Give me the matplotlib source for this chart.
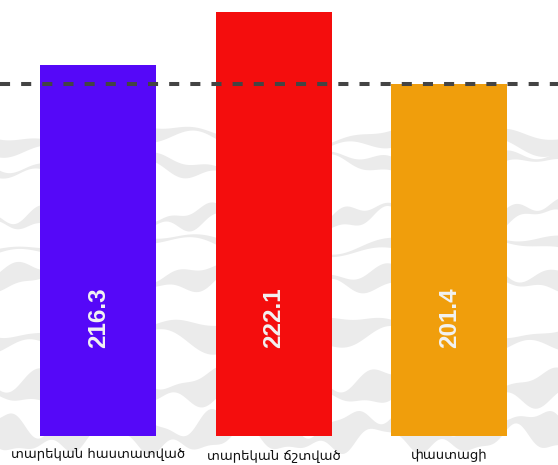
import matplotlib
matplotlib.use("Agg")
import matplotlib.pyplot as plt
import numpy as np

# categories and values shown on the bars
categories = ["տարեկան հաստատված", "տարեկան ճշտված", "փաստացի"]
value_labels = ["216.3", "222.1", "201.4"]
# bar heights as drawn (relative, tallest bar = 100); the picture is not to scale
bar_heights = [87.5, 100.0, 83.0]
reference_level = 83.0
colors = ["#5508f8", "#f40d0d", "#f09e0c"]

fig = plt.figure(figsize=(5.58, 4.65), dpi=100)
ax = fig.add_axes([0, 0, 1, 1])

# bars sit on a baseline 436 px from the top
px_per_unit = 4.24
ax.set_xlim(-0.56, 2.62)
ax.set_ylim(-29.3 / px_per_unit, 435.7 / px_per_unit)
ax.axis("off")

# faint grey brush-stroke texture in the background
xs = np.linspace(-0.6, 2.7, 500)
bands = [(70, 2.5, 1.3, 0.0), (64, 2.0, 1.7, 1.0), (52, 2.5, 2.3, 2.0),
         (45, 1.8, 1.1, 0.5), (38, 3.0, 1.9, 2.5), (24, 4.0, 1.4, 0.7),
         (12, 4.5, 2.1, 1.9), (1, 5.0, 2.6, 1.2)]
for yc, thick, freq, ph in bands:
    mid = yc + 1.8 * np.sin(freq * 3.1 * xs + ph) + 0.9 * np.sin(freq * 11.0 * xs + ph * 2)
    half = thick / 2 * (1 + 0.7 * np.sin(freq * 6.3 * xs + ph * 3))
    ax.fill_between(xs, mid - half, mid + half, color="#ebebeb", lw=0, zorder=0)

x = np.arange(len(categories))
ax.bar(x, bar_heights, width=0.66, color=colors, zorder=2)

line = ax.axhline(reference_level, color="#444444", lw=2.9, zorder=3)
line.set_dashes([2.5, 2.75])
line.set_dash_capstyle("butt")

for xi, lab in zip(x, value_labels):
    ax.text(xi, 20.7, lab, rotation=90, ha="center", va="bottom", color="#f2f2f2",
            fontsize=17.5, fontweight="bold", family=["Liberation Sans", "DejaVu Sans"], zorder=4)

label_y = [-4.5, -5.0, -4.5]
for xi, lab, ly in zip(x, categories, label_y):
    ax.text(xi, ly, lab, ha="center", va="center", color="#111111",
            fontsize=9.5, family=["DejaVu Sans"], zorder=4)

fig.savefig("out.png", dpi=100)
